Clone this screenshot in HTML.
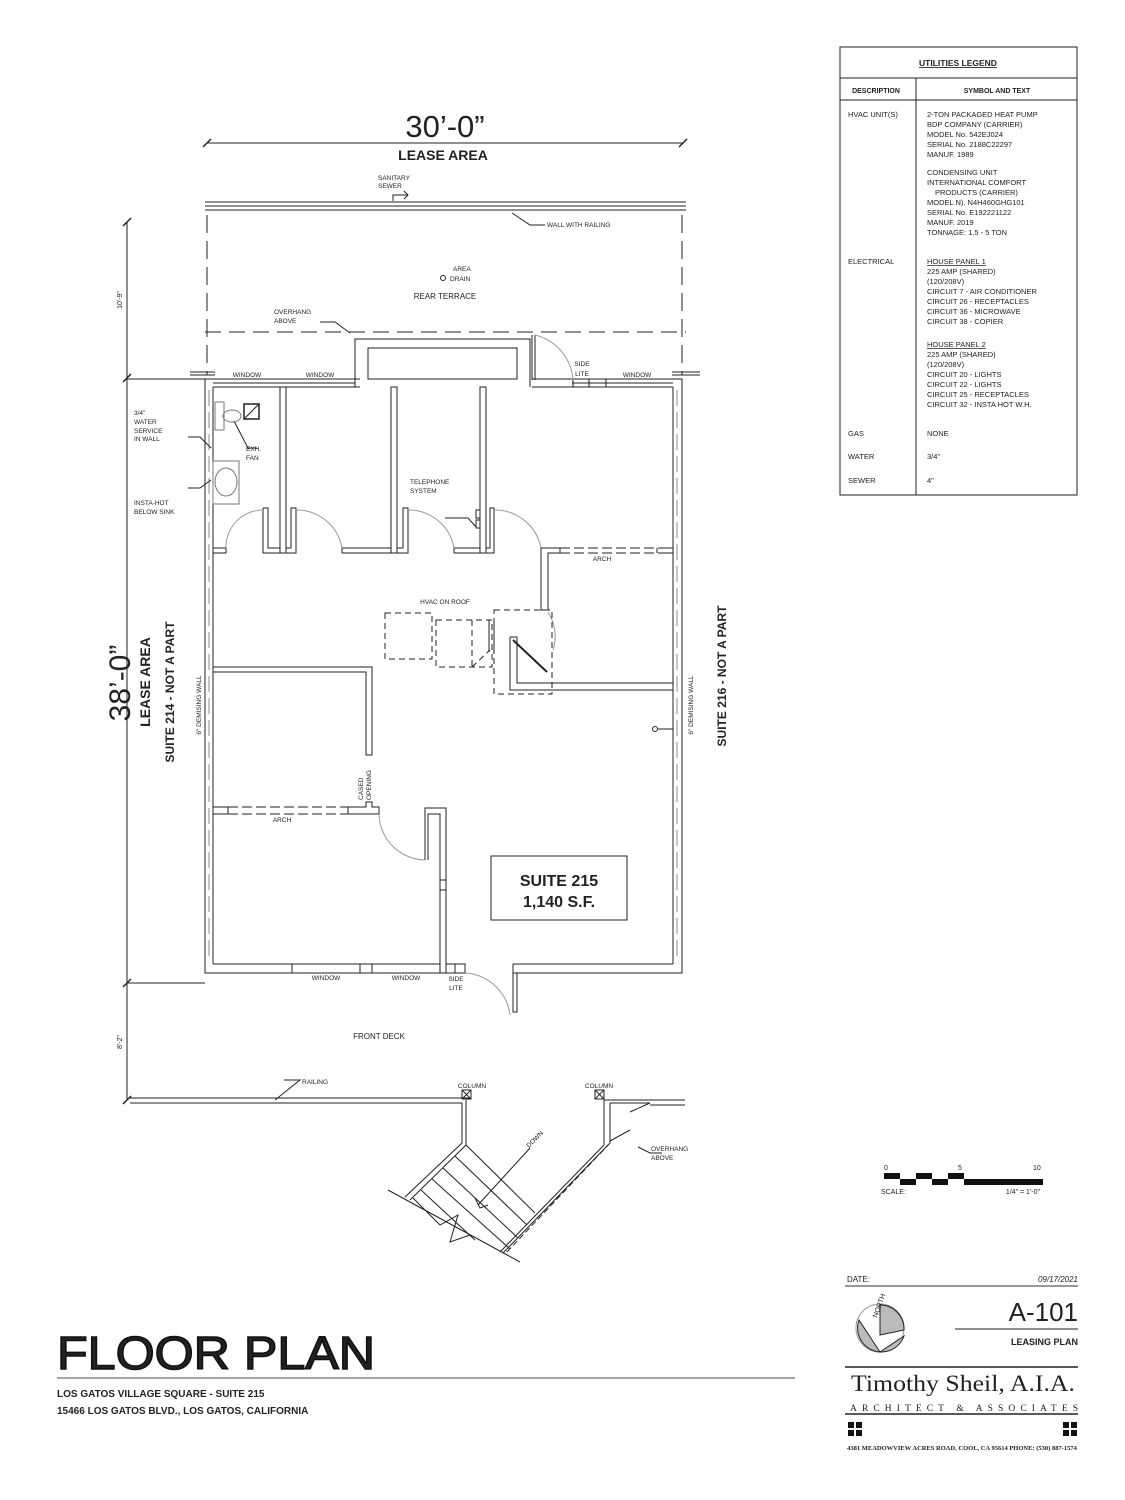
<!DOCTYPE html>
<html><head><meta charset="utf-8"><style>
html,body{margin:0;padding:0;background:#fff;}
svg{display:block;}
text{font-family:"Liberation Sans",sans-serif;fill:#222;}
</style></head><body>
<svg width="1125" height="1500" viewBox="0 0 1125 1500" xmlns="http://www.w3.org/2000/svg">
<g stroke="#222" stroke-width="1" fill="none">
<line x1="207" y1="143" x2="683" y2="143"/>
<line x1="203" y1="147" x2="211" y2="139" stroke-width="1.5"/>
<line x1="679" y1="147" x2="687" y2="139" stroke-width="1.5"/>
<line x1="205" y1="202" x2="686" y2="202"/>
<line x1="205" y1="206" x2="686" y2="206"/>
<line x1="205" y1="210" x2="686" y2="210"/>
<polyline points="393,201 393,195 408,195"/><polyline points="404,191 408,195 404,199"/>
<polyline points="512,213 530,225 545,225"/>
<line x1="207" y1="215" x2="207" y2="375" stroke-dasharray="18,8"/>
<line x1="682" y1="215" x2="682" y2="375" stroke-dasharray="18,8"/>
<line x1="205" y1="332" x2="686" y2="332" stroke-dasharray="16,8"/>
<polyline points="320,322 335,322 350,333"/>
<circle cx="443" cy="278" r="2.5"/>
<line x1="127" y1="222" x2="127" y2="1100"/>
<line x1="123" y1="226" x2="131" y2="218" stroke-width="1.5"/>
<line x1="123" y1="382" x2="131" y2="374" stroke-width="1.5"/>
<line x1="123" y1="987" x2="131" y2="979" stroke-width="1.5"/>
<line x1="123" y1="1104" x2="131" y2="1096" stroke-width="1.5"/>
<line x1="127" y1="379" x2="205" y2="379"/>
<line x1="127" y1="983" x2="205" y2="983"/>
<line x1="190" y1="372" x2="215" y2="372"/><line x1="190" y1="375" x2="215" y2="375"/>
<line x1="672" y1="372" x2="700" y2="372"/><line x1="672" y1="375" x2="700" y2="375"/>
<polyline points="360,379 205,379 205,973 446,973"/>
<polyline points="532,379 682,379 682,973 513,973"/>
<line x1="213" y1="387" x2="213" y2="964"/>
<line x1="673" y1="387" x2="673" y2="964"/>
<line x1="209" y1="390" x2="209" y2="960" stroke-dasharray="16,6" stroke="#888"/>
<line x1="677" y1="390" x2="677" y2="960" stroke-dasharray="16,6" stroke="#888"/>
<line x1="213" y1="387" x2="360" y2="387"/>
<line x1="213" y1="383" x2="355" y2="383"/>
<line x1="532" y1="387" x2="673" y2="387"/>
<line x1="572" y1="383" x2="673" y2="383"/>
<rect x="573" y="379" width="16" height="8"/><rect x="589" y="379" width="17" height="8"/>
<polyline points="355,387 355,339 530,339 530,387"/>
<rect x="368" y="348" width="149" height="31"/>
<line x1="532" y1="335" x2="532" y2="380"/><line x1="535" y1="335" x2="535" y2="380"/>
<path d="M535,335 A50,50 0 0 1 573,380" stroke="#999"/>
<rect x="280" y="387" width="6" height="166"/>
<rect x="391" y="387" width="6" height="166"/>
<rect x="480" y="387" width="6" height="166"/>
<polyline points="213,548 226,548 226,553 213,553"/>
<polyline points="263,508 268,508 268,548 280,548"/><polyline points="263,508 263,553 280,553"/>
<polyline points="286,548 291,548 291,508 296,508 296,553 286,553"/>
<polyline points="342,548 391,548"/><polyline points="342,553 391,553"/><line x1="342" y1="548" x2="342" y2="553"/>
<polyline points="397,548 403,548 403,508 408,508 408,553 397,553"/>
<line x1="454" y1="548" x2="480" y2="548"/><line x1="454" y1="553" x2="480" y2="553"/><line x1="454" y1="548" x2="454" y2="553"/>
<polyline points="486,548 490,548 490,508 494,508 494,553 486,553"/>
<path d="M226,548 A37,37 0 0 1 263,510" stroke="#999"/>
<path d="M296,510 A46,46 0 0 1 342,548" stroke="#999"/>
<path d="M408,510 A46,46 0 0 1 454,548" stroke="#999"/>
<path d="M494,510 A47,47 0 0 1 541,548" stroke="#999"/>
<polyline points="541,548 560,548"/>
<polyline points="541,548 541,610 548,610 548,553 560,553"/>
<line x1="560" y1="548" x2="660" y2="548" stroke-dasharray="10,4"/>
<line x1="560" y1="553" x2="660" y2="553" stroke-dasharray="10,4"/>
<line x1="560" y1="548" x2="560" y2="553"/><line x1="657" y1="548" x2="657" y2="553"/>
<line x1="660" y1="548" x2="673" y2="548"/><line x1="660" y1="553" x2="673" y2="553"/>
<polyline points="510,637 517,637 517,683 673,683"/><polyline points="510,637 510,690 673,690"/>
<line x1="513" y1="640" x2="547" y2="672" stroke-width="2"/>
<path d="M548,612 A45,45 0 0 1 553,650" stroke="#999"/>
<g stroke-dasharray="6,4">
<rect x="385" y="613" width="47" height="46"/>
<rect x="436" y="620" width="56" height="47"/>
<line x1="472" y1="620" x2="472" y2="667"/>
<rect x="494" y="610" width="58" height="84"/>
<line x1="472" y1="667" x2="490" y2="650"/>
</g>
<line x1="489" y1="620" x2="489" y2="652"/><line x1="494" y1="620" x2="494" y2="652"/>
<circle cx="655" cy="729" r="2.5"/><line x1="658" y1="729" x2="673" y2="729"/>
<polyline points="213,667 372,667 372,755 366,755 366,672 213,672"/>
<line x1="213" y1="807" x2="228" y2="807"/><line x1="213" y1="814" x2="228" y2="814"/>
<line x1="228" y1="807" x2="348" y2="807" stroke-dasharray="10,4"/>
<line x1="228" y1="814" x2="348" y2="814" stroke-dasharray="10,4"/>
<line x1="228" y1="807" x2="228" y2="814"/>
<polyline points="348,807 366,807 366,802 372,802 372,807 379,807 379,814 348,814 348,807"/>
<path d="M379,814 A47,47 0 0 0 425,860" stroke="#999"/>
<polyline points="425,860 425,808 446,808 446,964"/>
<polyline points="428,860 428,814 440,814 440,964"/>
<line x1="440" y1="880" x2="446" y2="880"/><line x1="440" y1="890" x2="446" y2="890"/>
<line x1="213" y1="964" x2="292" y2="964"/>
<rect x="292" y="964" width="68" height="9"/><rect x="360" y="964" width="12" height="9"/><rect x="372" y="964" width="68" height="9"/>
<rect x="446" y="964" width="9" height="9"/><rect x="455" y="964" width="10" height="9"/>
<line x1="513" y1="964" x2="673" y2="964"/>
<polyline points="513,964 513,1012 517,1012 517,973"/>
<path d="M465,973 A48,48 0 0 1 510,1015" stroke="#999"/>
<rect x="491" y="856" width="136" height="64"/>
<polyline points="188,437 200,437 211,448"/>
<polyline points="188,488 200,488 211,480"/>
<polyline points="257,448 248,448 234,421"/>
<polyline points="445,518 468,518 476,527"/>
<rect x="215" y="402" width="9" height="28" stroke="#777"/>
<ellipse cx="232" cy="416" rx="9" ry="6" stroke="#777"/>
<rect x="244" y="404" width="15" height="15" stroke-width="1.5"/><line x1="244" y1="419" x2="259" y2="404"/>
<rect x="213" y="461" width="26" height="43" stroke="#777"/>
<ellipse cx="226" cy="482" rx="11" ry="14" stroke="#777"/>
<rect x="476" y="510" width="4" height="8"/><rect x="476" y="520" width="4" height="8"/>
<line x1="130" y1="1098" x2="470" y2="1098"/>
<line x1="130" y1="1103" x2="462" y2="1103"/>
<polyline points="284,1080 300,1080 275,1100"/>
<line x1="462" y1="1103" x2="462" y2="1143"/>
<line x1="466" y1="1100" x2="466" y2="1145"/>
<rect x="462" y="1090" width="9" height="9"/><line x1="462" y1="1090" x2="471" y2="1099"/><line x1="471" y1="1090" x2="462" y2="1099"/>
<rect x="595" y="1090" width="9" height="9"/><line x1="595" y1="1090" x2="604" y2="1099"/><line x1="604" y1="1090" x2="595" y2="1099"/>
<polyline points="604,1100 685,1100"/><polyline points="610,1103 650,1103"/>
<line x1="650" y1="1105" x2="685" y2="1105"/>
<line x1="604" y1="1100" x2="604" y2="1145"/><line x1="610" y1="1103" x2="610" y2="1143"/>
<line x1="630" y1="1112" x2="650" y2="1103"/>
<line x1="462" y1="1143" x2="405" y2="1197"/>
<line x1="466" y1="1145" x2="410" y2="1200"/>
<line x1="604" y1="1145" x2="500" y2="1252"/>
<line x1="608" y1="1145" x2="503" y2="1253"/>
<line x1="610" y1="1143" x2="505" y2="1254" stroke-dasharray="6,3"/>
<line x1="610" y1="1141" x2="630" y2="1130"/>
<line x1="388" y1="1190" x2="520" y2="1262"/>
<polyline points="413,1198 440,1225 458,1215 450,1242 470,1235"/>
<line x1="466" y1="1145" x2="535" y2="1213"/>
<line x1="455" y1="1156" x2="527" y2="1225"/>
<line x1="443" y1="1168" x2="518" y2="1238"/>
<line x1="432" y1="1179" x2="510" y2="1249"/>
<line x1="421" y1="1190" x2="475" y2="1240"/>
<line x1="530" y1="1148" x2="478" y2="1205"/>
<polyline points="475,1198 480,1208 488,1205"/>
<polyline points="638,1147 650,1153 662,1153"/>
<rect x="840" y="47" width="237" height="448"/>
<line x1="840" y1="78" x2="1077" y2="78"/>
<line x1="840" y1="100" x2="1077" y2="100"/>
<line x1="916" y1="78" x2="916" y2="495"/>
<line x1="845" y1="1286" x2="1078" y2="1286" stroke="#777" stroke-width="1.5"/>
<line x1="955" y1="1329" x2="1078" y2="1329"/>
<line x1="845" y1="1367" x2="1078" y2="1367" stroke-width="1.5"/>
<line x1="845" y1="1414" x2="1078" y2="1414" stroke-width="1.5"/>
<line x1="57" y1="1378" x2="795" y2="1378" stroke="#888" stroke-width="1.5"/>
<circle cx="880" cy="1328" r="24" stroke="#999"/>
<path d="M880,1305 A24,24 0 0 1 904,1330 L880,1335 Z" fill="#bbb"/>
<path d="M859,1320 A24,24 0 0 0 880,1352 Z" fill="#bbb"/>
<path d="M880,1352 A24,24 0 0 0 904,1336 Z" fill="#bbb"/>
</g>
<g fill="#111">
<rect x="884" y="1173" width="16" height="6"/><rect x="900" y="1179" width="16" height="6"/>
<rect x="916" y="1173" width="16" height="6"/><rect x="932" y="1179" width="16" height="6"/>
<rect x="948" y="1173" width="16" height="6"/><rect x="964" y="1179" width="79" height="6"/>
<rect x="848" y="1422" width="6" height="6"/><rect x="856" y="1422" width="6" height="6"/>
<rect x="848" y="1430" width="6" height="6"/><rect x="856" y="1430" width="6" height="6"/>
<rect x="1063" y="1422" width="6" height="6"/><rect x="1071" y="1422" width="6" height="6"/>
<rect x="1063" y="1430" width="6" height="6"/><rect x="1071" y="1430" width="6" height="6"/>
</g>
<text x="445" y="137" font-size="31" text-anchor="middle" fill="#333">30’-0”</text>
<text x="443" y="160" font-size="14" font-weight="bold" text-anchor="middle">LEASE AREA</text>
<text x="378" y="180" font-size="6.5">SANITARY</text><text x="378" y="188" font-size="6.5">SEWER</text>
<text x="547" y="227" font-size="6.5">WALL WITH RAILING</text>
<text x="453" y="271" font-size="6.5">AREA</text>
<text x="450" y="281" font-size="6.5">DRAIN</text>
<text x="445" y="299" font-size="8" text-anchor="middle">REAR TERRACE</text>
<text x="274" y="314" font-size="6.5">OVERHANG</text><text x="274" y="323" font-size="6.5">ABOVE</text>
<text x="247" y="377" font-size="6.5" text-anchor="middle">WINDOW</text>
<text x="320" y="377" font-size="6.5" text-anchor="middle">WINDOW</text>
<text x="582" y="366" font-size="6.5" text-anchor="middle">SIDE</text><text x="582" y="376" font-size="6.5" text-anchor="middle">LITE</text>
<text x="637" y="377" font-size="6.5" text-anchor="middle">WINDOW</text>
<text x="134" y="415" font-size="6.5">3/4"</text><text x="134" y="424" font-size="6.5">WATER</text>
<text x="134" y="433" font-size="6.5">SERVICE</text><text x="134" y="441" font-size="6.5">IN WALL</text>
<text x="134" y="505" font-size="6.5">INSTA-HOT</text><text x="134" y="514" font-size="6.5">BELOW SINK</text>
<text x="246" y="451" font-size="6.5">EXH.</text><text x="246" y="460" font-size="6.5">FAN</text>
<text x="410" y="484" font-size="6.5">TELEPHONE</text><text x="410" y="493" font-size="6.5">SYSTEM</text>
<text x="602" y="561" font-size="6.5" text-anchor="middle">ARCH</text>
<text x="445" y="604" font-size="6.5" text-anchor="middle">HVAC ON ROOF</text>
<text x="282" y="822" font-size="6.5" text-anchor="middle">ARCH</text>
<text transform="translate(363,800) rotate(-90)" font-size="6.5">CASED</text>
<text transform="translate(371,800) rotate(-90)" font-size="6.5">OPENING</text>
<text x="559" y="886" font-size="16" font-weight="bold" text-anchor="middle">SUITE 215</text>
<text x="559" y="907" font-size="16" font-weight="bold" text-anchor="middle">1,140 S.F.</text>
<text x="326" y="980" font-size="6.5" text-anchor="middle">WINDOW</text>
<text x="406" y="980" font-size="6.5" text-anchor="middle">WINDOW</text>
<text x="456" y="981" font-size="6.5" text-anchor="middle">SIDE</text><text x="456" y="990" font-size="6.5" text-anchor="middle">LITE</text>
<text x="379" y="1039" font-size="8" text-anchor="middle">FRONT DECK</text>
<text x="302" y="1084" font-size="6.5">RAILING</text>
<text x="472" y="1088" font-size="6.5" text-anchor="middle">COLUMN</text>
<text x="599" y="1088" font-size="6.5" text-anchor="middle">COLUMN</text>
<text x="651" y="1151" font-size="6.5">OVERHANG</text><text x="651" y="1160" font-size="6.5">ABOVE</text>
<text transform="translate(529,1148) rotate(-45)" font-size="6.5">DOWN</text>
<text transform="translate(122,300) rotate(-90)" font-size="7" fill="#555" text-anchor="middle">10'-9"</text>
<text transform="translate(122,1042) rotate(-90)" font-size="7" fill="#555" text-anchor="middle">8'-2"</text>
<text transform="translate(130,683) rotate(-90)" font-size="30" text-anchor="middle" fill="#444">38’-0”</text>
<text transform="translate(150,682) rotate(-90)" font-size="14" font-weight="bold" text-anchor="middle">LEASE AREA</text>
<text transform="translate(174,692) rotate(-90)" font-size="12" font-weight="bold" text-anchor="middle">SUITE 214 - NOT A PART</text>
<text transform="translate(201,705) rotate(-90)" font-size="6.5" text-anchor="middle">6" DEMISING WALL</text>
<text transform="translate(693,705) rotate(-90)" font-size="6.5" text-anchor="middle">6" DEMISING WALL</text>
<text transform="translate(726,676) rotate(-90)" font-size="12" font-weight="bold" text-anchor="middle">SUITE 216 - NOT A PART</text>
<text x="958" y="66" font-size="8.5" font-weight="bold" text-anchor="middle" text-decoration="underline">UTILITIES LEGEND</text>
<text x="876" y="93" font-size="7" font-weight="bold" text-anchor="middle">DESCRIPTION</text>
<text x="997" y="93" font-size="7" font-weight="bold" text-anchor="middle">SYMBOL AND TEXT</text>
<g font-size="7.5">
<text x="848" y="117">HVAC UNIT(S)</text>
<text x="927" y="117">2-TON PACKAGED HEAT PUMP</text>
<text x="927" y="127">BDP COMPANY (CARRIER)</text>
<text x="927" y="137">MODEL No. 542EJ024</text>
<text x="927" y="147">SERIAL No. 2188C22297</text>
<text x="927" y="157">MANUF. 1989</text>
<text x="927" y="175">CONDENSING UNIT</text>
<text x="927" y="185">INTERNATIONAL COMFORT</text>
<text x="935" y="195">PRODUCTS (CARRIER)</text>
<text x="927" y="205">MODEL N). N4H460GHG101</text>
<text x="927" y="215">SERIAL No. E192221122</text>
<text x="927" y="225">MANUF. 2019</text>
<text x="927" y="235">TONNAGE: 1.5 - 5 TON</text>
<text x="848" y="264">ELECTRICAL</text>
<text x="927" y="264" text-decoration="underline">HOUSE PANEL 1</text>
<text x="927" y="274">225 AMP (SHARED)</text>
<text x="927" y="284">(120/208V)</text>
<text x="927" y="294">CIRCUIT 7 - AIR CONDITIONER</text>
<text x="927" y="304">CIRCUIT 26 - RECEPTACLES</text>
<text x="927" y="314">CIRCUIT 36 - MICROWAVE</text>
<text x="927" y="324">CIRCUIT 38 - COPIER</text>
<text x="927" y="347" text-decoration="underline">HOUSE PANEL 2</text>
<text x="927" y="357">225 AMP (SHARED)</text>
<text x="927" y="367">(120/208V)</text>
<text x="927" y="377">CIRCUIT 20 - LIGHTS</text>
<text x="927" y="387">CIRCUIT 22 - LIGHTS</text>
<text x="927" y="397">CIRCUIT 25 - RECEPTACLES</text>
<text x="927" y="407">CIRCUIT 32 - INSTA HOT W.H.</text>
<text x="848" y="436">GAS</text><text x="927" y="436">NONE</text>
<text x="848" y="459">WATER</text><text x="927" y="459">3/4"</text>
<text x="848" y="483">SEWER</text><text x="927" y="483">4"</text>
</g>
<text x="884" y="1170" font-size="7">0</text>
<text x="958" y="1170" font-size="7">5</text>
<text x="1033" y="1170" font-size="7">10</text>
<text x="881" y="1194" font-size="7">SCALE:</text>
<text x="1040" y="1194" font-size="7" text-anchor="end">1/4" = 1'-0"</text>
<text x="847" y="1282" font-size="8">DATE:</text>
<text x="1078" y="1282" font-size="8" text-anchor="end" font-style="italic">09/17/2021</text>
<text transform="translate(877,1318) rotate(-70)" font-size="7">NORTH</text>
<text x="1078" y="1321" font-size="26" text-anchor="end" fill="#111">A-101</text>
<text x="1078" y="1345" font-size="9" font-weight="bold" text-anchor="end">LEASING PLAN</text>
<text x="851" y="1391" font-size="23" textLength="224" lengthAdjust="spacingAndGlyphs" fill="#888" style="font-family:'Liberation Serif',serif">Timothy Sheil, A.I.A.</text>
<text x="850" y="1411" font-size="9.5" textLength="228" style="font-family:'Liberation Serif',serif">ARCHITECT &amp; ASSOCIATES</text>
<text x="962" y="1450" font-size="6.5" font-weight="bold" text-anchor="middle" style="font-family:'Liberation Serif',serif">4381 MEADOWVIEW ACRES ROAD, COOL, CA 95614 PHONE: (530) 887-1574</text>
<text x="57" y="1369" font-size="46" textLength="318" lengthAdjust="spacingAndGlyphs" fill="#777" stroke="#111" stroke-width="1.5">FLOOR PLAN</text>
<text x="57" y="1397" font-size="10" font-weight="bold">LOS GATOS VILLAGE SQUARE - SUITE 215</text>
<text x="57" y="1414" font-size="10" font-weight="bold">15466 LOS GATOS BLVD., LOS GATOS, CALIFORNIA</text>
</svg>
</body></html>
